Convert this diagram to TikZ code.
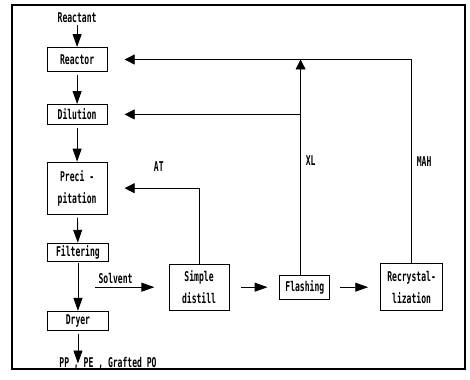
\documentclass[tikz,border=0pt]{standalone}
\usepackage{fontspec}
\setmainfont[FakeStretch=0.6]{DejaVu Sans Mono}
\usetikzlibrary{arrows.meta, positioning}

\begin{document}
\begin{tikzpicture}[
    node distance=1cm and 1.76cm,
    unit/.style={draw, line width=0.9pt, minimum width=2.12cm, minimum height=0.8cm, align=center, inner sep=1pt, font=\fontsize{13.5}{22}\selectfont\bfseries},
    tag/.style={inner sep=1pt, font=\fontsize{13.5}{15}\selectfont\bfseries},
    arrow/.style={-{Triangle[length=13pt, width=9pt]}, line width=0.9pt},
    feed/.style={-{Triangle[length=10pt, width=10pt]}, line width=0.6pt},
]

% Page frame
\useasboundingbox (0,0) rectangle (16.58,-13.37);
\draw[line width=1.6pt] (0.42,-0.18) rectangle (16.40,-13.02);

% Main column
\node[tag] (reactant) at (2.72,-0.64) {Reactant};
\node[unit, minimum height=0.85cm, below=0.8cm of reactant] (reactor) {Reactor};
\node[unit, minimum height=0.7cm, below=1.13cm of reactor] (dilution) {Dilution};
\node[unit, minimum height=1.84cm, below=1.3cm of dilution] (precip) {Preci -\\pitation};
\node[unit, minimum height=0.64cm, below=0.99cm of precip, xshift=0.03cm] (filtering) {Filtering};
\node[unit, minimum height=0.67cm, below=1.73cm of filtering] (dryer) {Dryer};
\node[tag, below=0.9cm of dryer, xshift=1.06cm] (product) {PP , PE , Grafted PO};

% Solvent recovery row
\node[unit, minimum height=1.62cm, below right=0.07cm and 2.12cm of filtering] (distill) {Simple\\distill};
\node[unit, minimum width=1.76cm, minimum height=0.85cm, right=1.76cm of distill] (flashing) {Flashing};
\node[unit, minimum width=2.19cm, minimum height=1.66cm, right=1.76cm of flashing] (recryst) {Recrystal-\\lization};

% Main flow
\draw[arrow, shorten <=1pt] (reactant) -- (reactor);
\draw[arrow, shorten <=3pt] (reactor) -- (dilution);
\draw[arrow, shorten <=3pt] (dilution) -- (precip);
\draw[arrow, shorten <=3pt] (precip) -- (filtering);
\draw[arrow, shorten <=1pt] (filtering) -- (dryer);
\draw[arrow, shorten <=3pt] (dryer) -- (dryer |- product);

% Recovery flow
\draw[arrow, shorten >=0.5cm] ([xshift=0.6cm]filtering.south |- distill.west) -- node[tag, above=2pt, pos=0.28] {Solvent} (distill.west);
\draw[arrow, shorten <=0.42cm, shorten >=0.42cm] (distill) -- (flashing);
\draw[arrow, shorten <=0.35cm, shorten >=0.42cm] (flashing) -- (recryst);

% Recycle lines
\draw[feed, shorten >=0.6cm] (distill.north) |- node[tag, pos=0.72, above=0.55cm] {AT} (precip.east);
\draw[feed] ([xshift=-0.15cm]flashing.north) -- node[tag, pos=0.53, right=4pt] {XL} ([xshift=-0.15cm]flashing.north |- reactor.east);
\draw[feed, shorten >=0.6cm] ([xshift=-0.15cm]flashing.north |- dilution.east) -- (dilution.east);
\draw[feed, shorten >=0.6cm] (recryst.north) |- node[tag, pos=0.25, right=4pt] {MAH} (reactor.east);

\end{tikzpicture}
\end{document}
